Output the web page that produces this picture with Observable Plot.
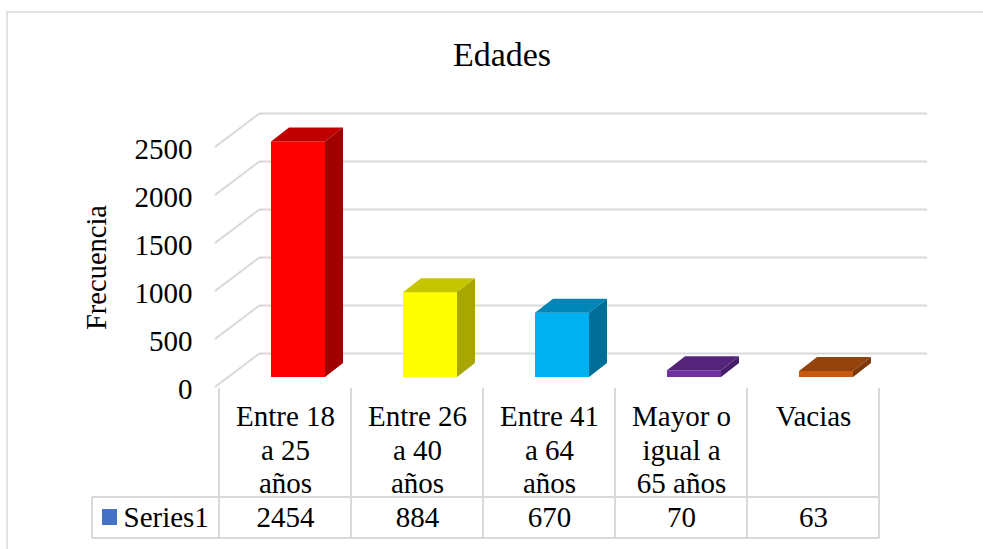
<!DOCTYPE html>
<html><head><meta charset="utf-8">
<script src="https://cdn.jsdelivr.net/npm/d3@7"></script>
<script src="https://cdn.jsdelivr.net/npm/@observablehq/plot@0.6"></script>
<style>
html,body{margin:0;padding:0;background:#fff;overflow:hidden}
#chart svg text, #chart svg tspan{font-family:'Liberation Serif','Times New Roman',serif !important}
</style>
</head><body><div id="chart"></div>
<script>
// ---- data ----
const categories = ["Entre 18\na 25\naños", "Entre 26\na 40\naños", "Entre 41\na 64\naños", "Mayor o\nigual a\n65 años", "Vacias"];
const values = [2454, 884, 670, 70, 63];
const frontColors = ["#FF0000", "#FFFF00", "#00B0F0", "#7030A0", "#C55A11"];
const topColors = ["#C00000", "#C6C600", "#0087B8", "#54247A", "#94430D"];
const sideColors = ["#A00000", "#A8A600", "#006F98", "#471E68", "#7B380B"];
const yTicks = [0, 500, 1000, 1500, 2000, 2500];
const seriesName = "Series1";
const seriesColor = "#4472C4";
const title = "Edades";
const yLabel = "Frecuencia";

const data = categories.map((c, i) => ({cat: c, value: values[i], front: frontColors[i], top: topColors[i], side: sideColors[i]}));

// ---- layout ----
const W = 983, H = 549;
const mL = 217, mR = 103, mT = 147, mB = 162;
const INSET = 39;            // bar inset inside its band
const OFF = [13, -10];       // bar plane offset from front plane
const BD = [18, -14];        // bar depth
const WALL = [45, -34];      // wall depth
const GRID = "#d9d9d9";
const FONT = "'Liberation Serif', 'Times New Roman', serif";
const FS = 29;

const bwOf = (s, dims) => {
  const b = s.bandwidth;
  if (typeof b === "function") return b();
  if (typeof b === "number") return b;
  return (dims.width - dims.marginRight - dims.marginLeft) / categories.length;
};

function border(index, scales, values, dims) {
  const g = d3.create("svg:g");
  g.append("rect").attr("x", 7).attr("y", 12).attr("width", dims.width + 20).attr("height", dims.height + 20)
    .attr("fill", "none").attr("stroke", GRID).attr("stroke-width", 1.5);
  return g.node();
}

function sideWall(index, scales, values, dims) {
  const g = d3.create("svg:g");
  const x0 = dims.marginLeft - 2;
  yTicks.forEach(t => {
    const y = scales.y(t);
    g.append("line").attr("x1", x0).attr("y1", y).attr("x2", x0 + WALL[0]).attr("y2", y + WALL[1])
      .attr("stroke", GRID).attr("stroke-width", 2);
  });
  return g.node();
}

function faces(index, scales, values, dims) {
  const g = d3.create("svg:g");
  const bw = bwOf(scales.x, dims);
  const y0 = scales.y(0);
  data.forEach(d => {
    const xa = scales.x(d.cat) + INSET + OFF[0];
    const xb = scales.x(d.cat) + bw - INSET + OFF[0];
    const yt = scales.y(d.value) + OFF[1];
    const yb = y0 + OFF[1];
    g.append("path").attr("d", `M${xa},${yt}L${xb},${yt}L${xb + BD[0]},${yt + BD[1]}L${xa + BD[0]},${yt + BD[1]}Z`).attr("fill", d.top);
    g.append("path").attr("d", `M${xb},${yt}L${xb + BD[0]},${yt + BD[1]}L${xb + BD[0]},${yb + BD[1]}L${xb},${yb}Z`).attr("fill", d.side);
  });
  return g.node();
}

function table(index, scales, values, dims) {
  const g = d3.create("svg:g").attr("stroke", GRID).attr("stroke-width", 2);
  const bw = bwOf(scales.x, dims);
  const y0 = scales.y(0);
  const bounds = categories.map(c => scales.x(c));
  bounds.push(scales.x(categories[categories.length - 1]) + bw);
  const yTop = y0 + 1, yMid = y0 + 110, yBot = y0 + 151;
  const xLeft = dims.marginLeft - 125;
  bounds.forEach(x => g.append("line").attr("x1", x).attr("x2", x).attr("y1", yTop).attr("y2", yBot));
  g.append("line").attr("x1", xLeft).attr("x2", xLeft).attr("y1", yMid).attr("y2", yBot);
  g.append("line").attr("x1", xLeft).attr("x2", bounds[bounds.length - 1]).attr("y1", yMid).attr("y2", yMid);
  g.append("line").attr("x1", xLeft).attr("x2", bounds[bounds.length - 1]).attr("y1", yBot).attr("y2", yBot);
  g.append("rect").attr("x", dims.marginLeft - 115).attr("y", y0 + 122).attr("width", 15).attr("height", 16)
    .attr("fill", seriesColor).attr("stroke", "none");
  return g.node();
}

const chart = Plot.plot({
  width: W, height: H,
  marginLeft: mL, marginRight: mR, marginTop: mT, marginBottom: mB,
  style: {fontFamily: FONT, fontSize: FS + "px", color: "black", background: "white", overflow: "visible"},
  x: {domain: categories, padding: 0, axis: null},
  y: {domain: [0, 2500], axis: null},
  color: {type: "identity"},
  marks: [
    border,
    sideWall,
    Plot.ruleY(yTicks, {y: d => d, dx: WALL[0], dy: WALL[1], insetLeft: -2, insetRight: -2, stroke: GRID, strokeWidth: 2}),
    Plot.barY(data, {x: "cat", y: "value", fill: "front", insetLeft: INSET, insetRight: INSET, dx: OFF[0], dy: OFF[1]}),
    faces,
    table,
    Plot.text([title], {text: d => d, frameAnchor: "top", lineAnchor: "middle", dx: -47, dy: -92, fontSize: 34, fontFamily: FONT}),
    Plot.text([yLabel], {text: d => d, frameAnchor: "left", rotate: -90, textAnchor: "middle", lineAnchor: "middle", dx: -121, fontSize: 28.5, fontFamily: FONT}),
    Plot.text(yTicks, {y: d => d, text: d => String(d), frameAnchor: "left", textAnchor: "end", lineAnchor: "middle", dx: -25, dy: 2, fontSize: FS, fontFamily: FONT}),
    Plot.text(data, {x: "cat", text: "cat", frameAnchor: "bottom", lineAnchor: "top", lineHeight: 1.155, dy: 15, fontSize: FS, fontFamily: FONT}),
    Plot.text(data, {x: "cat", text: d => String(d.value), frameAnchor: "bottom", lineAnchor: "top", dy: 119, fontSize: FS, fontFamily: FONT}),
    Plot.text([seriesName], {text: d => d, frameAnchor: "bottom-left", textAnchor: "start", lineAnchor: "top", dx: -94, dy: 119, fontSize: FS, fontFamily: FONT})
  ]
});
document.getElementById("chart").appendChild(chart);
</script>
</body></html>
